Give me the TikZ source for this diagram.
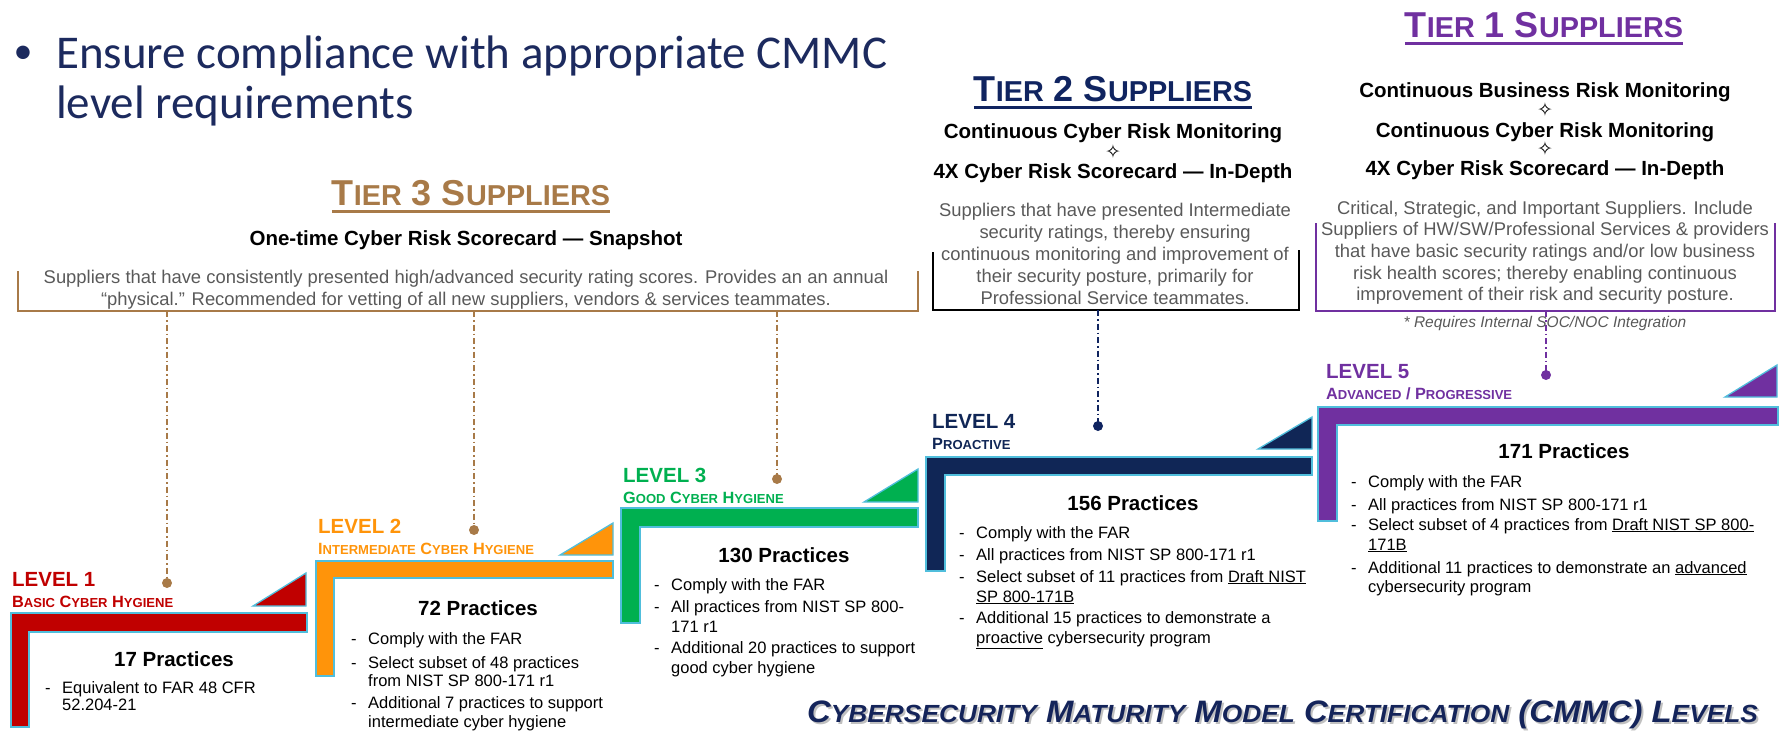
\documentclass[tikz,border=0pt]{standalone}
\usepackage{fontspec}
\usepackage{graphicx}
\setmainfont{Liberation Sans}
\newfontfamily\calib{Carlito}
\newfontfamily\djv{DejaVu Sans}
\newcommand\setfs[1]{\fontsize{#1}{#1}\selectfont}
\newcommand\lowsc[1]{\scalebox{0.8}{#1}}
\definecolor{bnavy}{RGB}{28,42,94}
\definecolor{t3c}{RGB}{168,122,72}
\definecolor{t2c}{RGB}{16,36,96}
\definecolor{purp}{RGB}{112,48,160}
\definecolor{l1c}{RGB}{192,0,0}
\definecolor{l2c}{RGB}{255,148,10}
\definecolor{l3c}{RGB}{0,176,80}
\definecolor{l4c}{RGB}{16,38,86}
\definecolor{edgeblue}{RGB}{80,190,220}
\definecolor{gtxt}{RGB}{89,89,89}
\definecolor{ttl}{RGB}{20,36,90}
\tikzset{
 lvshape/.style={draw=edgeblue, line width=1.3pt, line join=miter},
 lvlabel/.style={anchor=base west, inner sep=0, font=\bfseries\setfs{20.5}},
 lvsub/.style={anchor=base west, inner sep=0, font=\bfseries\setfs{16.3}},
 prhead/.style={anchor=base, inner sep=0, font=\bfseries\setfs{20.5}},
 itemtxt/.style={anchor=base west, inner sep=0, font=\setfs{16.5}},
 tiertitle/.style={anchor=base, inner sep=0, font=\bfseries\setfs{36}},
 tiersub/.style={anchor=base, inner sep=0, font=\bfseries\setfs{20.5}},
 tiertxt/.style={anchor=base, inner sep=0, font=\setfs{18.4}, text=gtxt},
 diam/.style={anchor=center, inner sep=0, font=\djv\bfseries\setfs{19}},
 linkline/.style={line width=1.5pt, dash pattern=on 6pt off 3pt on 1.5pt off 3pt},
 linkdot/.style={circle, inner sep=0, minimum size=10pt},
}
\newcommand\lvitem[5]{\node[itemtxt] (#1) at (#2,#3) {#5};\ifnum#4=1 \node[itemtxt] (#1d) at (#2-17,#3) {-};\fi}
\begin{document}
\begin{tikzpicture}[x=1pt,y=-1pt]
\useasboundingbox (0,0) rectangle (1787,742);

% bullet text
\node[anchor=center, inner sep=0, font=\calib\setfs{38}, text=bnavy] (bdot) at (23,55) {•};
\node[anchor=base west, inner sep=0, font=\calib\setfs{47}, text=bnavy] (bl1) at (56,68) {Ensure compliance with appropriate CMMC};
\node[anchor=base west, inner sep=0, font=\calib\setfs{47}, text=bnavy] (bl2) at (56,118) {level requirements};

% ---------- Tier 3
\node[tiertitle, text=t3c] (t3title) at (471,205) {T\lowsc{IER} 3 S\lowsc{UPPLIERS}};
\draw[t3c, line width=3pt] ([yshift=-6pt]t3title.base west) -- ([yshift=-6pt]t3title.base east);
\node[tiersub] (t3sub) at (466,245) {One-time Cyber Risk Scorecard — Snapshot};
\node[tiertxt] (t3l1) at (466,283) {Suppliers that have consistently presented high/advanced security rating scores. Provides an an annual};
\node[tiertxt] (t3l2) at (466,305) {“physical.” Recommended for vetting of all new suppliers, vendors \& services teammates.};
\draw[t3c, line width=2pt] (18,271) -- (18,311) -- (918,311) -- (918,271);

% ---------- Tier 2
\node[tiertitle, text=t2c] (t2title) at (1113,101) {T\lowsc{IER} 2 S\lowsc{UPPLIERS}};
\draw[t2c, line width=3pt] ([yshift=-6pt]t2title.base west) -- ([yshift=-6pt]t2title.base east);
\node[tiersub] (t2s1) at (1113,138) {Continuous Cyber Risk Monitoring};
\node[diam] (t2dm) at (1113,152) {✧};
\node[tiersub] (t2s2) at (1113,178) {4X Cyber Risk Scorecard — In-Depth};
\foreach \t [count=\i] in {{Suppliers that have presented Intermediate},{security ratings, thereby ensuring},{continuous monitoring and improvement of},{their security posture, primarily for},{Professional Service teammates.}}
  \node[tiertxt] (t2l\i) at (1115,194+22*\i) {\t};
\draw[black, line width=2.5pt] (933,252) -- (933,310) -- (1299,310) -- (1299,250);

% ---------- Tier 1
\node[tiertitle, text=purp] (t1title) at (1544,37) {T\lowsc{IER} 1 S\lowsc{UPPLIERS}};
\draw[purp, line width=3pt] ([yshift=-6pt]t1title.base west) -- ([yshift=-6pt]t1title.base east);
\node[tiersub] (t1s1) at (1545,97) {Continuous Business Risk Monitoring};
\node[diam] (t1dm1) at (1545,110) {✧};
\node[tiersub] (t1s2) at (1545,137) {Continuous Cyber Risk Monitoring};
\node[diam] (t1dm2) at (1545,149) {✧};
\node[tiersub] (t1s3) at (1545,175) {4X Cyber Risk Scorecard — In-Depth};
\foreach \t [count=\i] in {{Critical, Strategic, and Important Suppliers. Include},{Suppliers of HW/SW/Professional Services \& providers},{that have basic security ratings and/or low business},{risk health scores; thereby enabling continuous},{improvement of their risk and security posture.}}
  \node[tiertxt] (t1l\i) at (1545,192.3+21.7*\i) {\t};
\draw[purp, line width=2pt] (1316,223) -- (1316,311) -- (1775,311) -- (1775,223);
\node[anchor=base, inner sep=0, font=\itshape\setfs{15.5}, text=gtxt] (t1note) at (1545,327) {* Requires Internal SOC/NOC Integration};

% ---------- Level shapes
\filldraw[lvshape, fill=l1c] (11,613) -- (307,613) -- (307,632) -- (29,632) -- (29,727) -- (11,727) -- cycle;
\filldraw[lvshape, fill=l1c] (253,606) -- (306,573) -- (306,606) -- cycle;
\filldraw[lvshape, fill=l2c] (316,561) -- (613,561) -- (613,578) -- (334,578) -- (334,676) -- (316,676) -- cycle;
\filldraw[lvshape, fill=l2c] (560,555) -- (613,523) -- (613,555) -- cycle;
\filldraw[lvshape, fill=l3c] (621,508) -- (918,508) -- (918,527) -- (640,527) -- (640,623) -- (621,623) -- cycle;
\filldraw[lvshape, fill=l3c] (864,502) -- (918,469) -- (918,502) -- cycle;
\filldraw[lvshape, fill=l4c] (926,457) -- (1312,457) -- (1312,475) -- (945,475) -- (945,571) -- (926,571) -- cycle;
\filldraw[lvshape, fill=l4c] (1258,449) -- (1312,417) -- (1312,449) -- cycle;
\filldraw[lvshape, fill=purp] (1318,407) -- (1778,407) -- (1778,425) -- (1337,425) -- (1337,521) -- (1318,521) -- cycle;
\filldraw[lvshape, fill=purp] (1725,397) -- (1777,365) -- (1777,397) -- cycle;

% ---------- Level labels
\node[lvlabel, text=l1c] (lv1) at (12,586) {LEVEL 1};
\node[lvsub, text=l1c] (lv1s) at (12,607) {B\lowsc{ASIC} C\lowsc{YBER} H\lowsc{YGIENE}};
\node[lvlabel, text=l2c] (lv2) at (318,533) {LEVEL 2};
\node[lvsub, text=l2c] (lv2s) at (318,554) {I\lowsc{NTERMEDIATE} C\lowsc{YBER} H\lowsc{YGIENE}};
\node[lvlabel, text=l3c] (lv3) at (623,482) {LEVEL 3};
\node[lvsub, text=l3c] (lv3s) at (623,503) {G\lowsc{OOD} C\lowsc{YBER} H\lowsc{YGIENE}};
\node[lvlabel, text=l4c] (lv4) at (932,428) {LEVEL 4};
\node[lvsub, text=l4c] (lv4s) at (932,449) {P\lowsc{ROACTIVE}};
\node[lvlabel, text=purp] (lv5) at (1326,378) {LEVEL 5};
\node[lvsub, text=purp] (lv5s) at (1326,399) {A\lowsc{DVANCED} / P\lowsc{ROGRESSIVE}};

% ---------- Practices
\node[prhead] (p1) at (174,666) {17 Practices};
\lvitem{a1}{62}{693}{1}{Equivalent to FAR 48 CFR}
\lvitem{a2}{62}{710}{0}{52.204-21}

\node[prhead] (p2) at (478,615) {72 Practices};
\lvitem{b1}{368}{644}{1}{Comply with the FAR}
\lvitem{b2}{368}{668}{1}{Select subset of 48 practices}
\lvitem{b3}{368}{686}{0}{from NIST SP 800-171 r1}
\lvitem{b4}{368}{708}{1}{Additional 7 practices to support}
\lvitem{b5}{368}{727}{0}{intermediate cyber hygiene}

\node[prhead] (p3) at (784,562) {130 Practices};
\lvitem{c1}{671}{590}{1}{Comply with the FAR}
\lvitem{c2}{671}{612}{1}{All practices from NIST SP 800-}
\lvitem{c3}{671}{632}{0}{171 r1}
\lvitem{c4}{671}{653}{1}{Additional 20 practices to support}
\lvitem{c5}{671}{673}{0}{good cyber hygiene}

\node[prhead] (p4) at (1133,510) {156 Practices};
\lvitem{e1}{976}{538}{1}{Comply with the FAR}
\lvitem{e2}{976}{560}{1}{All practices from NIST SP 800-171 r1}
\lvitem{e3}{976}{582}{1}{Select subset of 11 practices from \underline{Draft NIST}}
\lvitem{e4}{976}{602}{0}{\underline{SP 800-171B}}
\lvitem{e5}{976}{623}{1}{Additional 15 practices to demonstrate a}
\lvitem{e6}{976}{643}{0}{\underline{proactive} cybersecurity program}

\node[prhead] (p5) at (1564,458) {171 Practices};
\lvitem{f1}{1368}{487}{1}{Comply with the FAR}
\lvitem{f2}{1368}{510}{1}{All practices from NIST SP 800-171 r1}
\lvitem{f3}{1368}{530}{1}{Select subset of 4 practices from \underline{Draft NIST SP 800-}}
\lvitem{f4}{1368}{550}{0}{\underline{171B}}
\lvitem{f5}{1368}{573}{1}{Additional 11 practices to demonstrate an \underline{advanced}}
\lvitem{f6}{1368}{592}{0}{cybersecurity program}

% ---------- links
\coordinate (k1) at (167,311);
\coordinate (k2) at (474,311);
\coordinate (k3) at (777,311);
\coordinate (k4) at (1098,310);
\coordinate (k5) at (1546,311);
\node[linkdot, fill=t3c] (d1) at (167,583) {};
\node[linkdot, fill=t3c] (d2) at (474,530) {};
\node[linkdot, fill=t3c] (d3) at (777,479) {};
\node[linkdot, fill=t2c] (d4) at (1098,426) {};
\node[linkdot, fill=purp] (d5) at (1546,375) {};
\draw[linkline, t3c] (k1) -- (d1.center);
\draw[linkline, t3c] (k2) -- (d2.center);
\draw[linkline, t3c] (k3) -- (d3.center);
\draw[linkline, t2c] (k4) -- (d4.center);
\draw[linkline, purp] (k5) -- (d5.center);

% ---------- bottom title
\node[anchor=base west, inner sep=0, font=\bfseries\itshape\setfs{31}, text=black!55, opacity=0.45] (btsh) at (809,724) {\scalebox{1.06}[1]{C\lowsc{YBERSECURITY} M\lowsc{ATURITY} M\lowsc{ODEL} C\lowsc{ERTIFICATION} (CMMC) L\lowsc{EVELS}}};
\node[anchor=base west, inner sep=0, font=\bfseries\itshape\setfs{31}, text=ttl] (bt) at (807,722) {\scalebox{1.06}[1]{C\lowsc{YBERSECURITY} M\lowsc{ATURITY} M\lowsc{ODEL} C\lowsc{ERTIFICATION} (CMMC) L\lowsc{EVELS}}};
\end{tikzpicture}
\end{document}
